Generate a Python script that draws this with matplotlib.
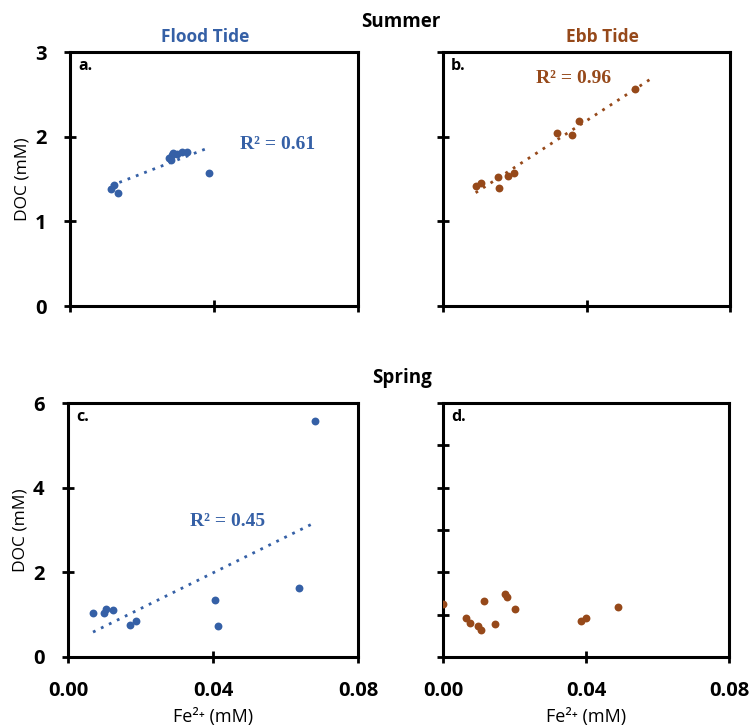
import numpy as np
import matplotlib.pyplot as plt

plt.rcParams['font.family'] = ['Open Sans', 'DejaVu Sans']

# data: Fe2+ (mM) vs DOC (mM)
flood_summer_fe = [0.0114, 0.0123, 0.0132, 0.0276, 0.0280, 0.0282, 0.0287, 0.0298, 0.0310, 0.0324, 0.0387]
flood_summer_doc = [1.38, 1.43, 1.33, 1.75, 1.72, 1.78, 1.81, 1.80, 1.82, 1.82, 1.57]

ebb_summer_fe = [0.0091, 0.0107, 0.0153, 0.0155, 0.0181, 0.0198, 0.0318, 0.0360, 0.0379, 0.0534]
ebb_summer_doc = [1.42, 1.45, 1.52, 1.39, 1.54, 1.57, 2.04, 2.02, 2.18, 2.56]

flood_spring_fe = [0.0069, 0.0099, 0.0104, 0.0123, 0.0171, 0.0187, 0.0406, 0.0413, 0.0637, 0.0681]
flood_spring_doc = [1.05, 1.03, 1.13, 1.10, 0.75, 0.85, 1.34, 0.73, 1.62, 5.58]

ebb_spring_fe = [0.0, 0.0063, 0.0075, 0.0098, 0.0107, 0.0114, 0.0145, 0.0173, 0.0180, 0.0201, 0.0385, 0.0400, 0.0489]
ebb_spring_doc = [1.25, 0.93, 0.80, 0.73, 0.63, 1.33, 0.77, 1.49, 1.41, 1.13, 0.85, 0.91, 1.19]

r2_labels = ['R² = 0.61', 'R² = 0.96', 'R² = 0.45', None]
panel_labels = ['a.', 'b.', 'c.', 'd.']
x_ticks = [0, 0.04, 0.08]
x_ticklabels = ['0.00', '0.04', '0.08']

blue = '#3560a6'
brown = '#96491a'

fig = plt.figure(figsize=(7.52, 7.27), dpi=100)

W, H = 752, 727
def box(l, t, r, b):
    return [l / W, 1 - b / H, (r - l) / W, (b - t) / H]

axa = fig.add_axes(box(70, 52, 358, 306))
axb = fig.add_axes(box(443, 52, 730, 306))
axc = fig.add_axes(box(68, 403, 358, 657))
axd = fig.add_axes(box(443, 403, 729, 657))

panels = [
    (axa, flood_summer_fe, flood_summer_doc, blue, True, (0.59, 0.634), 0.0),
    (axb, ebb_summer_fe, ebb_summer_doc, brown, True, (0.325, 0.895), 0.0045),
    (axc, flood_spring_fe, flood_spring_doc, blue, True, (0.42, 0.535), 0.0),
    (axd, ebb_spring_fe, ebb_spring_doc, brown, False, None, 0.0),
]

for i, (ax, x, y, col, trend, r2pos, fwd) in enumerate(panels):
    ax.scatter(x, y, s=32, color=col, zorder=3, linewidths=0)
    if trend:
        m, c = np.polyfit(x, y, 1)
        xs = np.array([min(x), max(x) + fwd])
        ax.plot(xs, m * xs + c, color=col, lw=2, linestyle=(0, (1, 2.2)), zorder=2)
        ax.text(r2pos[0], r2pos[1], r2_labels[i], transform=ax.transAxes,
                family='Liberation Serif', fontweight='bold', fontsize=14,
                color=col, va='center', ha='left')
    ax.text(0.028, 0.975, panel_labels[i], transform=ax.transAxes, fontsize=11.5,
            fontweight='bold', va='top', ha='left')
    ax.set_xlim(0, 0.08)
    ax.set_xticks(x_ticks)
    for s in ax.spines.values():
        s.set_linewidth(2.2)
    ax.tick_params(direction='inout', length=8, width=2, labelsize=14.5, pad=13)

axa.set_ylim(0, 3)
axb.set_ylim(0, 3)
axa.set_yticks([0, 1, 2, 3])
axb.set_yticks([0, 1, 2, 3])
axc.set_ylim(0, 6)
axd.set_ylim(0, 6)
axc.set_yticks([0, 2, 4, 6])
axd.set_yticks([0, 1, 2, 3, 4, 5, 6])

for ax in (axa, axb):
    ax.tick_params(labelbottom=False)
for ax in (axb, axd):
    ax.tick_params(labelleft=False)
for ax in (axc, axd):
    ax.set_xticklabels(x_ticklabels)
    ax.set_xlabel('Fe²⁺ (mM)', fontsize=13)
    ax.xaxis.set_label_coords(0.5, -0.2)
for ax in (axa, axc):
    ax.set_ylabel('DOC (mM)', fontsize=12.5, labelpad=3)
for ax in (axa, axb, axc, axd):
    for lab in ax.get_xticklabels() + ax.get_yticklabels():
        lab.set_fontweight('bold')

fig.text(401 / W, 1 - 22 / H, 'Summer', ha='center', va='center', fontsize=13.5, fontweight='bold')
fig.text(402 / W, 1 - 378 / H, 'Spring', ha='center', va='center', fontsize=13.5, fontweight='bold')
fig.text(205 / W, 1 - 37 / H, 'Flood Tide', ha='center', va='center', fontsize=12.5,
         fontweight='bold', color=blue)
fig.text(602 / W, 1 - 37 / H, 'Ebb Tide', ha='center', va='center', fontsize=12.5,
         fontweight='bold', color=brown)

fig.savefig('out.png', dpi=100)
